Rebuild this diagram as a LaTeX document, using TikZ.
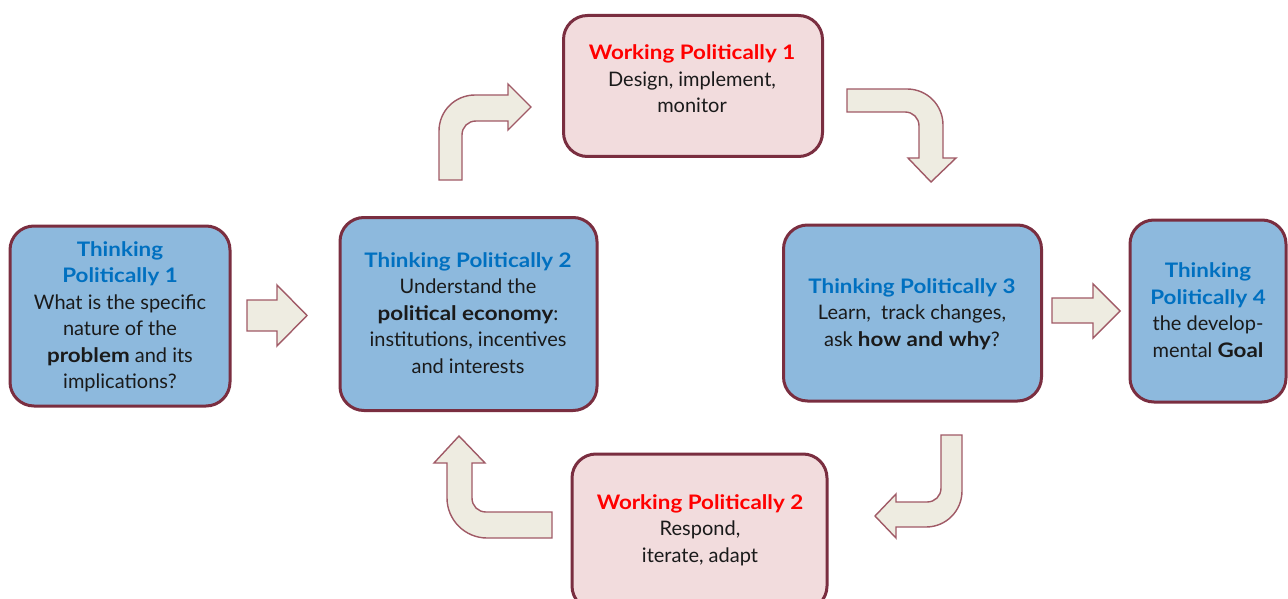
\documentclass[tikz,border=0pt]{standalone}
\usepackage{fontspec}
\setmainfont{Lato}[BoldFeatures={FakeStretch=1.12}]
\definecolor{boxblue}{HTML}{8DB9DD}
\definecolor{boxpink}{HTML}{F2DCDD}
\definecolor{boxline}{HTML}{7A2E40}
\definecolor{titleblue}{HTML}{0070C0}
\definecolor{titlered}{HTML}{FF0000}
\definecolor{bodytext}{HTML}{1A1A1A}
\definecolor{arrowfill}{HTML}{EEECE1}
\definecolor{arrowline}{HTML}{A05A66}
\tikzset{
  tbox/.style={draw=boxline, line width=3pt, fill=boxblue, rounded corners=24pt, inner sep=0pt},
  wbox/.style={tbox, fill=boxpink},
  txt/.style={align=center, text=bodytext, inner sep=0pt, font=\fontsize{20}{26.5}\selectfont},
  blockarrow/.style={draw=arrowline, fill=arrowfill, line width=1.4pt, line join=miter},
}
\newcommand{\tb}[1]{\textcolor{titleblue}{\textbf{#1}}}
\newcommand{\tr}[1]{\textcolor{titlered}{\textbf{#1}}}
\begin{document}
\begin{tikzpicture}[x=1pt,y=-1pt]
\clip (0,0) rectangle (1288,599);
\fill[white] (0,0) rectangle (1288,599);
% boxes
\node[tbox, minimum width=220pt, minimum height=180pt] (tp1) at (120,316) {};
\node[tbox, minimum width=257pt, minimum height=193pt] (tp2) at (468.5,314) {};
\node[wbox, minimum width=259pt, minimum height=141pt] (wp1) at (693,86) {};
\node[tbox, minimum width=258pt, minimum height=176pt] (tp3) at (912.5,313) {};
\node[tbox, minimum width=156pt, minimum height=182pt] (tp4) at (1208,311) {};
\node[wbox, minimum width=255pt, minimum height=156pt] (wp2) at (699.5,532) {};
% texts
\node[txt] (tp1t) at (120,317) {\tb{Thinking}\\ \tb{Politically 1}\\ What is the specific\\ nature of the\\ \textbf{problem} and its\\ implications?};
\node[txt] (tp2t) at (468,313) {\tb{Thinking Politically 2}\\ Understand the\\ \textbf{political economy}:\\ institutions, incentives\\ and interests};
\node[txt] (wp1t) at (692,79) {\tr{Working Politically 1}\\ Design, implement,\\ monitor};
\node[txt] (tp3t) at (912,314) {\tb{Thinking Politically 3}\\ Learn,\ \ track changes,\\ ask \textbf{how and why}?};
\node[txt] (tp4t) at (1208,310) {\tb{Thinking}\\ \tb{Politically 4}\\ the develop-\\ mental \textbf{Goal}};
\node[txt] (wp2t) at (700,530) {\tr{Working Politically 2}\\ Respond,\\ iterate, adapt};
% block arrows
\draw[blockarrow] (247,300) -- (277,300) -- (277,285) -- (307,315.5) -- (277,346) -- (277,331) -- (247,331) -- cycle;
\draw[blockarrow] (1052,298) -- (1093,298) -- (1093,284) -- (1120,311) -- (1093,338) -- (1093,323) -- (1052,323) -- cycle;
\draw[blockarrow] (439,180) -- (439,131) .. controls (439,111) and (455,95) .. (475,95) -- (508,95) -- (508,84) -- (531,107) -- (508,130) -- (508,121) -- (476,121) .. controls (468,121) and (462,127) .. (462,135) -- (462,180) -- cycle;
\draw[blockarrow] (847,89) -- (907,89) .. controls (927,89) and (943,105) .. (943,125) -- (943,158) -- (956,158) -- (931,182) -- (908,158) -- (919,158) -- (919,126) .. controls (919,118) and (913,112) .. (905,112) -- (847,112) -- cycle;
\draw[blockarrow] (941,435) -- (962,435) -- (962,491) .. controls (962,511) and (946,527) .. (926,527) -- (896,527) -- (896,538) -- (875,516) -- (896,494) -- (896,502) -- (927,502) .. controls (935,502) and (941,496) .. (941,488) -- cycle;
\draw[blockarrow] (552,512) -- (486,512) .. controls (478,512) and (472,506) .. (472,498) -- (472,463) -- (485,463) -- (459,436) -- (434,463) -- (447,463) -- (447,498) .. controls (447,520) and (465,538) .. (487,538) -- (552,538) -- cycle;
\end{tikzpicture}
\end{document}
